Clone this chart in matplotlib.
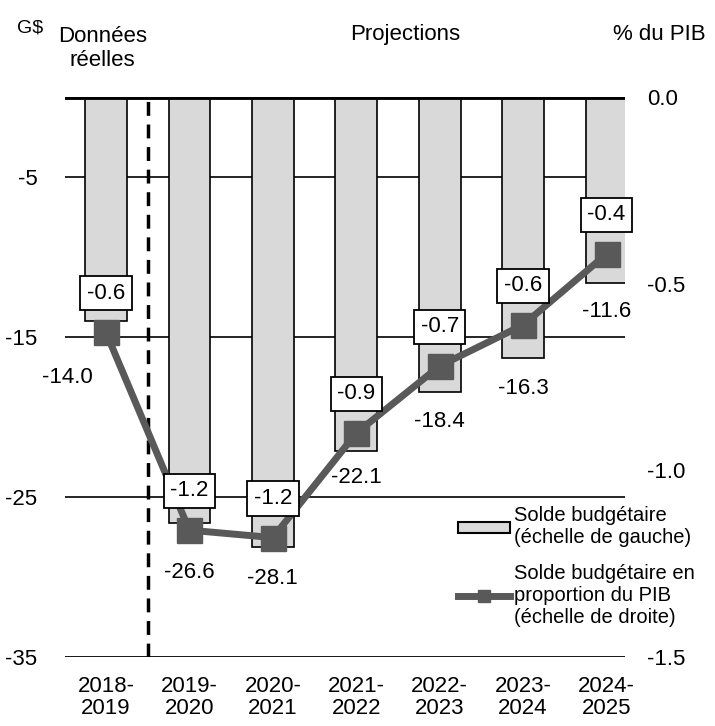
import matplotlib.pyplot as plt
from matplotlib.patches import Patch
from matplotlib.lines import Line2D

plt.rcParams['font.family'] = ['Liberation Sans', 'DejaVu Sans']

years = ["2018-\n2019", "2019-\n2020", "2020-\n2021", "2021-\n2022",
         "2022-\n2023", "2023-\n2024", "2024-\n2025"]
solde = [-14.0, -26.6, -28.1, -22.1, -18.4, -16.3, -11.6]
pct_pib = [-0.63, -1.16, -1.18, -0.90, -0.72, -0.61, -0.42]
pct_labels = ["-0.6", "-1.2", "-1.2", "-0.9", "-0.7", "-0.6", "-0.4"]

left_ticks = [-5, -15, -25, -35]
right_ticks = [0.0, -0.5, -1.0, -1.5]

# label placement below each bar (left-scale units)
solde_label_gap = [3.5, 3.1, 2.0, 1.7, 1.9, 1.9, 1.8]

x = list(range(len(years)))

fig = plt.figure(figsize=(7.15, 7.26), dpi=100)
ax = fig.add_axes([0.091, 0.095, 0.783, 0.771])
ax2 = ax.twinx()

# bars on left scale
ax.bar(x, solde, width=0.5, color="#d9d9d9", edgecolor="black", linewidth=1.2, zorder=2)
ax.set_ylim(-35, 0)
ax.set_xlim(-0.49, 6.22)

# gridlines
for t in [-5, -15, -25]:
    ax.axhline(t, color="black", linewidth=1.2, zorder=1)
ax.axhline(-35, color="black", linewidth=2, zorder=3)
ax.axhline(0, color="black", linewidth=3.5, zorder=3)

# separator actual / projections
ax.axvline(0.5, color="black", linewidth=2.5, linestyle=(0, (4, 2.5)), zorder=3)

ax.set_yticks(left_ticks)
ax.set_yticklabels([str(t) for t in left_ticks], fontsize=16)
ax.set_xticks(x)
ax.set_xticklabels(years, fontsize=16, linespacing=1.05)
ax.tick_params(axis="x", length=0, pad=14)
ax.tick_params(axis="y", length=0, pad=20)

for s in ax.spines.values():
    s.set_visible(False)
for s in ax2.spines.values():
    s.set_visible(False)

# bar labels
for i, v in enumerate(solde):
    xi = i - 0.46 if i == 0 else i
    ax.text(xi, v - solde_label_gap[i], f"{v:.1f}", ha="center", va="center",
            fontsize=16, zorder=5)

# line on right scale
ax2.plot(x, pct_pib, color="#595959", linewidth=5, marker="s", markersize=18, zorder=4)
ax2.set_ylim(-1.5, 0)
ax2.set_yticks(right_ticks)
ax2.set_yticklabels([f"{t:.1f}" for t in right_ticks], fontsize=16)
ax2.tick_params(length=0, pad=16)

for i, v in enumerate(pct_pib):
    ax2.text(i, v + 0.105, pct_labels[i], ha="center", va="center", fontsize=16, zorder=6,
             bbox=dict(boxstyle="square,pad=0.3", facecolor="white", edgecolor="black", linewidth=1.3))

# header texts
fig.text(0.024, 0.962, "G$", ha="left", va="center", fontsize=14)
fig.text(0.143, 0.933, "Données\nréelles", ha="center", va="center", fontsize=16, linespacing=1.15)
fig.text(0.567, 0.952, "Projections", ha="center", va="center", fontsize=16)
fig.text(0.922, 0.952, "% du PIB", ha="center", va="center", fontsize=16)

handles = [
    Patch(facecolor="#d9d9d9", edgecolor="black", linewidth=1.5),
    Line2D([0], [0], color="#595959", linewidth=5, marker="s", markersize=8),
]
labels = ["Solde budgétaire\n(échelle de gauche)",
          "Solde budgétaire en\nproportion du PIB\n(échelle de droite)"]
ax2.legend(handles, labels, loc="lower right", bbox_to_anchor=(1.14, 0.04), frameon=False,
           fontsize=14.5, handlelength=2.6, handleheight=0.5, handletextpad=0.2,
           labelspacing=0.8, borderaxespad=0)

fig.savefig("out.png", dpi=100)
